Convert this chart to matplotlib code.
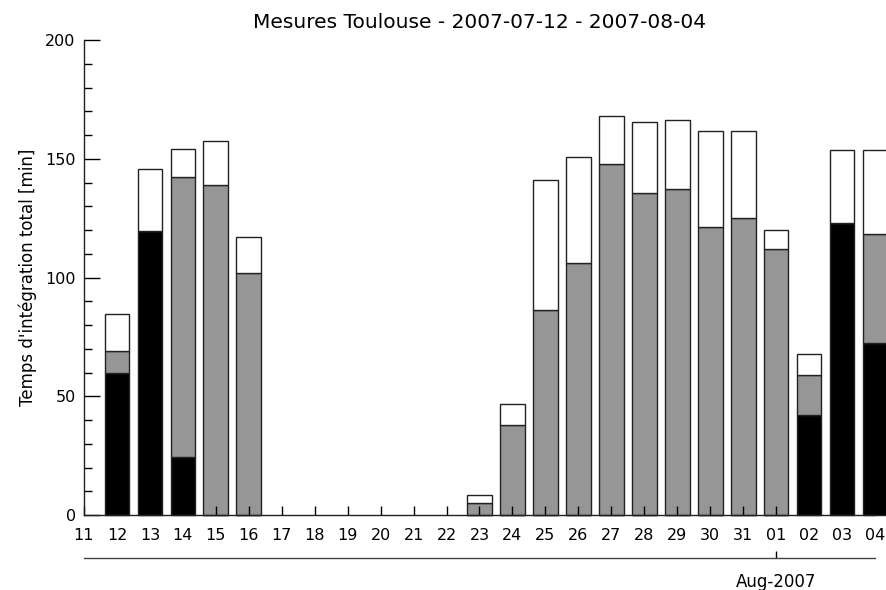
import numpy as np
import matplotlib
matplotlib.use("Agg")
import matplotlib.pyplot as plt

# jours du 2007-07-11 au 2007-08-04
jours = ["11", "12", "13", "14", "15", "16", "17", "18", "19", "20", "21", "22",
         "23", "24", "25", "26", "27", "28", "29", "30", "31", "01", "02", "03", "04"]

# durées par catégorie [min] (une valeur par jour, à partir du 11)
noir = [0, 60, 119.5, 24.5, 0, 0, 0, 0, 0, 0, 0, 0,
        0, 0, 0, 0, 0, 0, 0, 0, 0, 0, 42, 123, 72.5]
gris = [0, 9, 0, 117.7, 139, 102, 0, 0, 0, 0, 0, 0,
        5.2, 38, 86.3, 106, 147.8, 135.5, 137.3, 121.4, 125, 112, 17, 0, 45.8]
blanc = [0, 15.5, 26, 12, 18.6, 15.2, 0, 0, 0, 0, 0, 0,
         3.2, 8.8, 54.7, 44.7, 20.2, 30, 29, 40.3, 36.7, 8, 8.8, 30.7, 35.4]

W, H = 887, 590
fig = plt.figure(figsize=(W / 100, H / 100), dpi=100)
left, right, bottom, top = 84, 875, 515, 40
ax = fig.add_axes([left / W, (H - bottom) / H, (right - left) / W, (bottom - top) / H])

x = np.arange(len(jours))
noir = np.array(noir)
gris = np.array(gris)
blanc = np.array(blanc)
m = (noir + gris + blanc) > 0
kw = dict(width=0.75, edgecolor="#222222", linewidth=1.0, clip_on=False)
ax.bar(x[m], noir[m], color="black", **kw)
ax.bar(x[m], gris[m], bottom=noir[m], color="#969696", **kw)
ax.bar(x[m], blanc[m], bottom=(noir + gris)[m], color="white", **kw)

ax.set_xlim(0, len(jours) - 1)
ax.set_ylim(0, 200)
ax.set_xticks(x)
ax.set_xticklabels(jours, fontsize=11.5)
ax.set_yticks([0, 50, 100, 150, 200])
ax.set_yticks(np.arange(0, 201, 10), minor=True)
ax.tick_params(axis="y", which="major", direction="in", length=11.5, width=1, labelsize=11.5, pad=6)
ax.tick_params(axis="y", which="minor", direction="in", length=5.8, width=1)
ax.tick_params(axis="x", which="major", direction="in", length=6.5, width=1, pad=9)
for s in ["top", "right"]:
    ax.spines[s].set_visible(False)
for s in ["left", "bottom"]:
    ax.spines[s].set_color("#222222")
    ax.spines[s].set_linewidth(1.0)
ax.set_ylabel("Temps d'intégration total [min]", fontsize=12, labelpad=6)
ax.set_title("Mesures Toulouse - 2007-07-12 - 2007-08-04", fontsize=14.5, pad=9)

# axe secondaire pour le mois
ax2 = fig.add_axes([left / W, (H - 558) / H, (right - left) / W, 0.0001])
ax2.set_xlim(0, len(jours) - 1)
ax2.set_yticks([])
for s in ["top", "right", "left"]:
    ax2.spines[s].set_visible(False)
ax2.spines["bottom"].set_color("#444444")
ax2.spines["bottom"].set_linewidth(1.0)
ax2.set_xticks([jours.index("01")])
ax2.set_xticklabels(["Aug-2007"], fontsize=12)
ax2.tick_params(axis="x", direction="in", length=5, width=1, pad=11)
ax2.patch.set_visible(False)

fig.savefig("out.png", dpi=100)
